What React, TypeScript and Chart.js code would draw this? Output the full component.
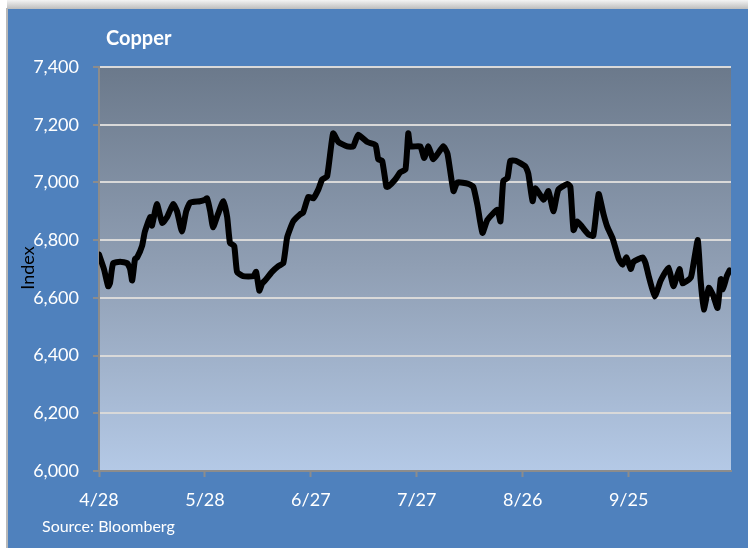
import React, { useEffect, useRef } from 'react';
import { Chart, registerables } from 'chart.js';

Chart.register(...registerables);

// Days elapsed since 4/28
const dayOffsets = [
  0, 1.4, 2.6, 3.1, 4, 6, 8, 8.8, 9.4, 10.2, 10.8, 12.2, 13, 14.5, 15, 16.4, 17.9, 19.3, 21, 22.1,
  23.5, 24.7, 25.8, 28.6, 30, 30.6, 31.5, 32.3, 33.7, 35.2, 36.3, 37.1, 38.3, 39.1, 40.8, 43.7, 44.5, 45.4, 46.2, 47,
  49, 50.8, 52.2, 53.3, 55, 57, 57.8, 59.3, 60.7, 62.1, 63.2, 64.6, 66.3, 67.8, 70.3, 72, 73.4, 76, 78.3, 79.1,
  80.2, 81.4, 81.9, 83.9, 85.3, 86.8, 87.6, 88.2, 91, 92.1, 93.3, 94.7, 97.5, 98.7, 100.4, 101.5, 104.6, 106, 107.2, 108.6,
  110, 112.8, 113.7, 114.5, 115.7, 116.5, 118, 120.8, 121.6, 122.8, 123.6, 125.9, 127.3, 128.7, 130.1, 132.7, 133.5, 134.4, 135.5, 136.9,
  138.6, 140, 141.5, 142.9, 144, 145.5, 147.2, 148.3, 149.4, 150.6, 151.4, 154, 154.8, 155.7, 157.4, 159.1, 161.3, 162.7, 164.4, 165.3,
  167.6, 168.4, 169.6, 170.4, 171.3, 172.7, 173.9, 175.2, 176.1, 176.7, 177.8, 178.6,
];

const copperIndex = [
  6750, 6700, 6640, 6650, 6720, 6725, 6720, 6700, 6660, 6735, 6740, 6780, 6830, 6880, 6850, 6925, 6860, 6880, 6925, 6900,
  6830, 6900, 6930, 6935, 6940, 6945, 6900, 6845, 6890, 6935, 6880, 6790, 6780, 6690, 6675, 6675, 6690, 6625, 6650, 6660,
  6690, 6710, 6720, 6810, 6865, 6890, 6895, 6950, 6945, 6975, 7010, 7020, 7170, 7140, 7125, 7125, 7165, 7140, 7130, 7080,
  7075, 6985, 6985, 7010, 7035, 7045, 7170, 7125, 7125, 7085, 7125, 7080, 7125, 7100, 6970, 7000, 6995, 6985, 6920, 6825,
  6870, 6905, 6865, 7005, 7015, 7075, 7075, 7055, 7030, 6935, 6980, 6940, 6970, 6900, 6975, 6995, 6985, 6835, 6865, 6845,
  6820, 6815, 6960, 6890, 6845, 6805, 6735, 6715, 6740, 6700, 6725, 6740, 6720, 6675, 6605, 6660, 6705, 6640, 6700, 6650,
  6670, 6720, 6800, 6660, 6560, 6635, 6610, 6565, 6665, 6630, 6675, 6695,
];

const xTickLabels = ['4/28', '5/28', '6/27', '7/27', '8/26', '9/25'];
const chartTitle = 'Copper';
const sourceNote = 'Source: Bloomberg';
const yAxisTitle = 'Index';

const FONT = 'Lato, "Open Sans", sans-serif';

const framePlugin = {
  id: 'frame',
  beforeDraw(chart: any) {
    const { ctx, chartArea, width, height } = chart;
    ctx.save();
    ctx.fillStyle = '#ffffff';
    ctx.fillRect(0, 0, width, height);
    const tg = ctx.createLinearGradient(0, 0, 0, 9);
    tg.addColorStop(0, '#f4f4f4');
    tg.addColorStop(1, '#bdbdbd');
    ctx.fillStyle = tg;
    ctx.fillRect(7, 0, width - 7, 9);
    ctx.fillStyle = '#b8b8b8';
    ctx.fillRect(6, 8, 2, height - 8);
    ctx.fillStyle = '#4f81bd';
    ctx.fillRect(8, 9, width - 8, height - 9);
    const g = ctx.createLinearGradient(0, chartArea.top, 0, chartArea.bottom);
    g.addColorStop(0, '#6b798b');
    g.addColorStop(0.5, '#909fb4');
    g.addColorStop(1, '#b4c9e6');
    ctx.fillStyle = g;
    ctx.fillRect(chartArea.left, chartArea.top, chartArea.right - chartArea.left, chartArea.bottom - chartArea.top);
    ctx.fillStyle = '#ffffff';
    ctx.textBaseline = 'middle';
    ctx.textAlign = 'left';
    ctx.font = `bold 20px ${FONT}`;
    ctx.fillText(chartTitle, 106, 39);
    ctx.font = `16px ${FONT}`;
    ctx.fillText(sourceNote, 42, 527);
    ctx.restore();
  },
  afterDraw(chart: any) {
    const { ctx } = chart;
    ctx.save();
    ctx.translate(28, 268);
    ctx.rotate(-Math.PI / 2);
    ctx.fillStyle = '#000000';
    ctx.font = `18px ${FONT}`;
    ctx.textAlign = 'center';
    ctx.textBaseline = 'middle';
    ctx.fillText(yAxisTitle, 0, 0);
    ctx.restore();
  },
};

export default function App() {
  const canvasRef = useRef<HTMLCanvasElement | null>(null);

  useEffect(() => {
    if (!canvasRef.current) return;
    const points = dayOffsets.map((d, i) => ({ x: d, y: copperIndex[i] }));
    const chart = new Chart(canvasRef.current, {
      type: 'line',
      data: {
        datasets: [
          {
            data: points,
            borderColor: '#000000',
            borderWidth: 6,
            borderJoinStyle: 'round',
            borderCapStyle: 'round',
            pointRadius: 0,
            tension: 0.15,
            fill: false,
          },
        ],
      },
      options: {
        animation: false,
        responsive: false,
        devicePixelRatio: 1,
        layout: { padding: { top: 67, right: 17, left: 0, bottom: 0 } },
        plugins: { legend: { display: false }, tooltip: { enabled: false }, title: { display: false } },
        scales: {
          x: {
            type: 'linear',
            min: 0,
            max: 179,
            afterFit: (s: any) => { s.height = 77; },
            ticks: {
              stepSize: 30,
              includeBounds: false,
              autoSkip: false,
              maxRotation: 0,
              color: '#ffffff',
              padding: 12,
              font: { family: FONT, size: 18 },
              callback: (v: any) => xTickLabels[Math.round(Number(v) / 30)] ?? '',
            },
            grid: { drawOnChartArea: false, drawTicks: true, tickLength: 6, tickColor: '#8c8c8c', tickWidth: 2 },
            border: { color: '#8c8c8c', width: 2 },
          },
          y: {
            min: 6000,
            max: 7400,
            afterFit: (s: any) => { s.width = 99; },
            ticks: {
              stepSize: 200,
              color: '#ffffff',
              padding: 14,
              font: { family: FONT, size: 18 },
              callback: (v: any) => Number(v).toLocaleString('en-US'),
            },
            grid: {
              color: (c: any) => (c.tick && c.tick.value === 6000 ? 'rgba(0,0,0,0)' : '#d9d9d9'),
              lineWidth: 2,
              drawTicks: true,
              tickLength: 6,
              tickColor: '#8c8c8c',
              tickWidth: 2,
            },
            border: { color: '#8c8c8c', width: 2 },
          },
        },
      },
      plugins: [framePlugin],
    });
    return () => chart.destroy();
  }, []);

  return (
    <div style={{ position: 'fixed', left: 0, top: 0, width: 748, height: 548 }}>
      <canvas ref={canvasRef} width={748} height={548} style={{ display: 'block' }} />
    </div>
  );
}
